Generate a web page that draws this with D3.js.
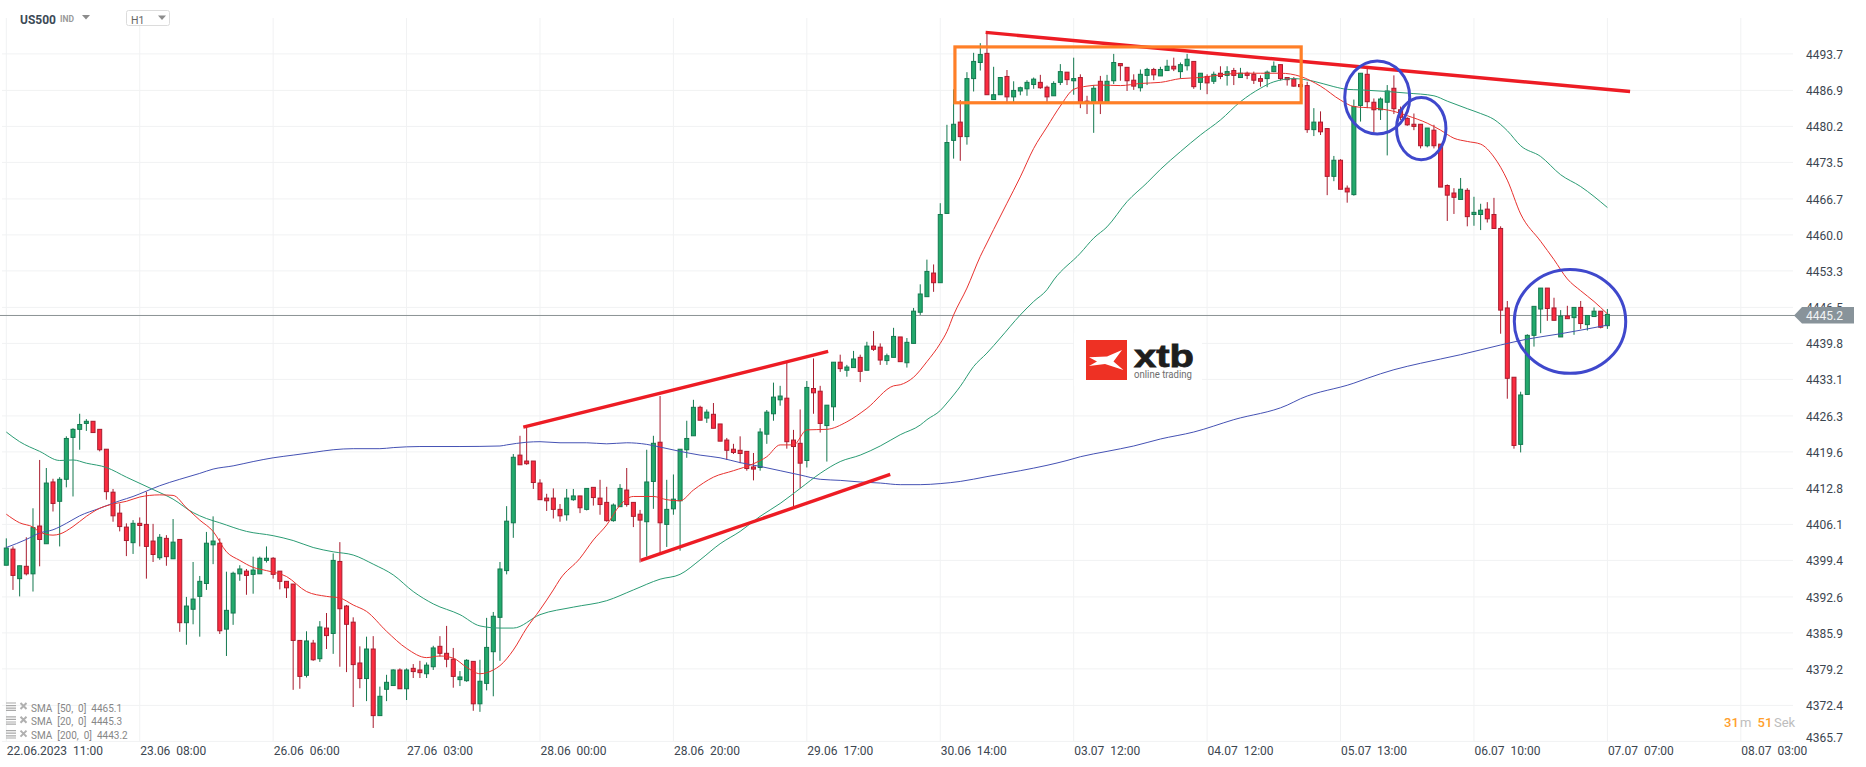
<!DOCTYPE html>
<html>
<head>
<meta charset="utf-8">
<title>US500 H1</title>
<script src="https://cdn.jsdelivr.net/npm/d3@7"></script>
<style>
  html, body { margin: 0; padding: 0; background: #fff; overflow: hidden; }
  svg { display: block; font-family: Roboto, sans-serif; }
  text { white-space: pre; }
  .domain { display: none; }
  .tick line { display: none; }
</style>
</head>
<body>
<svg id="chart" width="1866" height="767"></svg>
<script>
// candles, one value per hour
var opens = [
  4398.5,4401.5,4396.0,4398.3,4396.9,4405.8,4402.5,4414.0,4410.4,4414.5,
  4422.3,4423.8,4424.9,4425.3,4423.8,4420.1,4412.1,4408.2,4405.6,4402.7,
  4406.3,4406.1,4403.0,4399.9,4403.5,4399.7,4403.3,4387.8,4390.3,4392.7,
  4395.1,4402.3,4402.6,4386.6,4389.6,4396.9,4397.4,4396.8,4396.9,4399.4,
  4399.8,4397.4,4395.5,4395.0,4384.5,4378.0,4384.0,4381.1,4386.8,4385.8,
  4399.2,4390.9,4387.9,4380.3,4377.4,4382.9,4370.5,4375.4,4376.1,4379.0,
  4375.5,4379.3,4379.0,4378.3,4379.6,4383.4,4382.1,4381.0,4377.2,4377.0,
  4380.6,4372.7,4376.5,4382.4,4388.8,4397.5,4406.4,4419.0,4417.9,4417.9,
  4413.8,4411.0,4411.0,4408.9,4407.9,4410.7,4411.4,4408.9,4413.0,4411.0,
  4410.2,4406.8,4409.4,4412.5,4410.2,4408.0,4406.6,4414.1,4421.4,4406.1,
  4409.0,4410.5,4420.0,4422.6,4427.9,4425.9,4426.6,4424.8,4421.8,4420.1,
  4419.9,4419.7,4416.8,4416.7,4422.9,4426.7,4429.3,4429.6,4421.8,4421.2,
  4418.0,4431.4,4430.9,4424.5,4428.0,4436.3,4434.8,4435.3,4437.2,4434.8,
  4439.3,4439.1,4436.6,4437.2,4441.0,4436.2,4439.8,4445.6,4448.5,4452.9,
  4451.1,4464.0,4477.6,4481.0,4478.3,4489.1,4492.1,4493.8,4485.2,4486.1,
  4489.5,4485.7,4486.8,4487.2,4488.0,4488.4,4487.5,4485.9,4488.4,4490.3,
  4488.7,4489.3,4484.9,4484.5,4488.6,4484.5,4488.7,4491.9,4491.2,4488.8,
  4487.4,4489.7,4490.8,4489.6,4490.6,4491.4,4490.4,4491.5,4492.3,4488.4,
  4489.5,4488.6,4490.1,4489.7,4490.6,4489.3,4490.1,4489.9,4489.1,4489.1,
  4490.4,4491.7,4489.3,4489.0,4488.0,4487.8,4479.6,4481.0,4479.8,4470.9,
  4473.9,4468.7,4467.5,4484.1,4489.9,4484.7,4483.3,4484.7,4487.3,4483.3,
  4481.7,4480.6,4480.6,4476.6,4479.5,4476.9,4469.2,4467.8,4466.6,4468.3,
  4463.8,4463.8,4464.8,4463.8,4461.2,4446.4,4433.5,4421.0,4430.3,4441.3,
  4446.2,4450.1,4446.4,4441.0,4444.9,4444.6,4446.5,4443.3,4444.8,4445.8,4443.1
];
var highs = [
  4403.5,4402.0,4398.4,4403.7,4409.1,4418.1,4416.6,4414.6,4414.9,4422.5,
  4424.0,4426.7,4425.7,4425.3,4423.8,4420.1,4412.7,4410.0,4406.3,4406.9,
  4407.4,4412.2,4406.2,4404.3,4404.1,4407.1,4403.3,4392.6,4399.1,4396.5,
  4404.7,4407.6,4403.5,4397.3,4397.3,4398.5,4397.8,4400.1,4400.1,4402.0,
  4400.0,4397.4,4395.5,4395.0,4384.5,4386.2,4384.6,4388.1,4389.6,4400.7,
  4402.8,4391.1,4388.8,4383.4,4385.2,4385.3,4375.9,4378.1,4379.1,4379.3,
  4379.3,4380.1,4380.7,4380.4,4383.5,4385.3,4387.2,4383.1,4378.8,4381.0,
  4380.6,4380.9,4388.7,4389.8,4399.1,4409.5,4419.2,4422.6,4424.2,4417.9,
  4414.5,4411.8,4412.8,4409.9,4412.7,4412.7,4411.4,4412.8,4413.0,4414.4,
  4413.1,4410.0,4413.6,4416.6,4410.2,4408.8,4420.0,4422.6,4430.0,4414.4,
  4415.4,4420.1,4425.4,4429.3,4428.2,4427.5,4428.7,4424.8,4422.2,4421.1,
  4422.5,4419.7,4419.4,4424.0,4427.4,4432.5,4431.9,4436.2,4423.7,4427.5,
  4432.8,4437.0,4431.9,4428.3,4436.3,4437.7,4435.8,4438.4,4437.7,4440.1,
  4442.1,4439.8,4437.9,4442.7,4441.0,4440.8,4446.4,4450.8,4455.4,4454.5,
  4465.9,4480.5,4487.1,4485.1,4490.3,4493.9,4495.7,4497.8,4491.3,4489.3,
  4490.7,4488.6,4487.6,4488.8,4489.3,4489.8,4487.8,4488.6,4491.8,4490.3,
  4493.0,4489.9,4485.9,4487.9,4489.6,4489.8,4493.7,4491.9,4491.2,4489.9,
  4490.8,4491.1,4491.1,4491.3,4492.6,4493.0,4492.1,4493.7,4492.3,4490.1,
  4489.9,4490.4,4491.4,4491.4,4491.1,4491.1,4490.4,4490.4,4489.7,4490.6,
  4492.3,4491.7,4489.3,4489.4,4488.6,4488.5,4483.6,4483.0,4479.8,4474.7,
  4474.1,4469.2,4485.2,4490.1,4491.0,4485.4,4485.6,4487.9,4489.7,4483.9,
  4481.9,4482.6,4480.6,4479.9,4480.5,4476.9,4469.4,4468.7,4470.6,4468.7,
  4467.1,4465.8,4466.1,4466.9,4461.6,4447.7,4433.5,4430.8,4441.5,4446.7,
  4450.1,4450.1,4448.3,4446.0,4446.8,4446.5,4447.7,4445.0,4446.5,4445.8,4446.2
];
var lows = [
  4398.5,4393.9,4392.7,4396.6,4393.6,4398.3,4402.5,4408.5,4402.0,4413.0,
  4411.3,4420.0,4423.5,4423.2,4419.7,4410.7,4406.6,4404.8,4400.2,4400.6,
  4402.0,4396.0,4399.1,4399.5,4398.4,4399.7,4386.1,4383.7,4387.5,4385.2,
  4393.9,4398.7,4385.7,4381.6,4387.4,4395.6,4393.0,4393.2,4396.9,4399.0,
  4396.0,4394.0,4392.4,4375.3,4375.5,4377.6,4380.7,4380.5,4382.9,4382.0,
  4379.6,4378.6,4372.1,4375.6,4373.2,4368.2,4370.5,4373.2,4376.1,4375.5,
  4373.4,4377.5,4377.5,4377.5,4379.0,4381.5,4379.5,4375.7,4376.0,4376.8,
  4371.4,4371.2,4375.2,4374.1,4380.7,4396.8,4403.6,4417.2,4417.2,4412.7,
  4410.7,4408.6,4407.2,4406.6,4406.8,4410.5,4408.2,4408.7,4409.6,4407.9,
  4406.6,4406.6,4409.4,4409.4,4405.6,4399.0,4400.1,4409.0,4400.7,4401.9,
  4407.9,4401.2,4418.5,4422.6,4425.5,4425.0,4424.0,4421.6,4418.1,4419.2,
  4417.5,4416.1,4414.3,4416.1,4421.1,4425.4,4428.2,4420.2,4409.4,4412.8,
  4416.7,4426.7,4423.2,4417.8,4425.4,4434.5,4433.6,4435.3,4432.6,4434.8,
  4438.4,4435.8,4435.8,4437.2,4436.4,4435.3,4439.8,4445.1,4448.5,4449.4,
  4451.1,4464.0,4474.2,4473.8,4476.8,4486.7,4490.6,4486.1,4485.2,4486.1,
  4484.5,4484.6,4486.0,4485.9,4487.2,4487.2,4484.5,4485.9,4487.9,4487.9,
  4486.1,4483.6,4482.5,4479.0,4482.5,4484.5,4488.1,4488.7,4486.8,4487.0,
  4486.7,4487.9,4488.8,4489.6,4490.6,4490.5,4489.1,4490.6,4487.2,4487.0,
  4486.2,4488.1,4489.0,4487.8,4487.9,4489.3,4489.0,4488.1,4487.6,4487.5,
  4490.3,4488.8,4487.8,4487.6,4487.6,4479.0,4478.4,4478.6,4467.4,4470.0,
  4468.5,4466.0,4467.3,4481.1,4483.6,4479.1,4481.4,4474.8,4482.5,4481.4,
  4480.3,4479.5,4476.1,4476.3,4476.1,4468.9,4462.6,4463.9,4466.6,4461.6,
  4461.7,4460.9,4462.3,4461.1,4441.6,4429.5,4420.2,4419.5,4430.3,4439.2,
  4441.7,4444.0,4444.1,4441.0,4444.4,4441.4,4442.5,4442.2,4444.8,4442.6,4442.5
];
var closes = [
  4401.7,4396.6,4398.4,4396.9,4405.5,4403.3,4413.8,4410.0,4414.5,4422.1,
  4423.8,4424.7,4425.3,4423.2,4420.0,4412.2,4407.7,4405.7,4403.1,4406.3,
  4405.9,4402.0,4400.5,4403.7,4400.1,4402.8,4387.8,4390.9,4392.2,4395.5,
  4402.6,4403.0,4386.3,4390.1,4397.0,4397.8,4396.6,4397.6,4399.8,4399.8,
  4396.8,4395.5,4394.3,4384.5,4377.8,4384.4,4380.9,4387.0,4385.4,4399.4,
  4390.4,4387.5,4380.0,4377.4,4382.9,4370.5,4374.1,4376.7,4379.0,4375.5,
  4379.0,4378.7,4378.5,4379.9,4383.1,4382.1,4381.0,4377.8,4377.7,4380.8,
  4372.7,4376.9,4383.2,4389.0,4397.8,4406.7,4418.6,4417.2,4417.4,4413.9,
  4410.7,4410.5,4408.9,4407.7,4411.0,4411.4,4409.2,4412.8,4411.1,4409.8,
  4406.8,4409.7,4412.8,4409.8,4407.6,4406.9,4414.0,4421.2,4406.4,4408.9,
  4410.8,4420.1,4422.1,4427.9,4425.5,4427.0,4424.0,4421.6,4419.9,4419.5,
  4419.3,4416.5,4416.4,4423.3,4427.0,4429.8,4430.0,4421.5,4420.6,4417.5,
  4431.6,4430.6,4424.9,4428.3,4436.3,4435.1,4435.4,4436.9,4434.6,4439.3,
  4438.7,4436.7,4437.5,4441.1,4436.4,4440.0,4445.8,4449.0,4453.2,4451.1,
  4463.8,4477.2,4480.6,4478.3,4489.1,4492.3,4493.6,4486.1,4486.1,4489.3,
  4485.7,4486.9,4487.4,4488.4,4489.0,4487.4,4485.7,4488.2,4490.4,4488.9,
  4489.1,4484.5,4484.5,4487.3,4484.5,4488.6,4492.1,4491.5,4488.7,4487.7,
  4489.9,4490.8,4489.8,4490.8,4491.4,4490.9,4491.7,4492.7,4487.6,4490.1,
  4488.3,4489.9,4489.5,4490.4,4489.7,4490.1,4489.7,4488.8,4488.6,4490.3,
  4491.4,4489.1,4488.9,4487.7,4487.6,4479.6,4481.0,4479.2,4470.9,4473.9,
  4468.5,4468.0,4483.9,4490.1,4484.8,4483.3,4485.3,4486.8,4483.5,4481.9,
  4480.5,4480.2,4476.6,4479.9,4476.6,4468.9,4467.4,4467.0,4468.5,4463.4,
  4464.2,4464.6,4463.0,4461.2,4446.0,4433.3,4420.8,4430.2,4441.3,4446.7,
  4450.1,4446.3,4444.1,4444.9,4444.4,4446.5,4443.5,4445.0,4445.8,4442.8,4445.2
];

// moving averages, read at the candle numbers given in the *Idx lists
var sma50Idx = [0,2,5,8,10,12,15,18,22,25,28,30,32,36,40,43,46,49,52,55,58,61,64,68,71,74,76,80,85,90,94,98,101,104,107,110,113,116,119,122,125,128,131,134,137,138,140,141,143,145,147,149,152,154,156,157,161,163,165,168,171,173,176,179,182,185,188,190,193,196,199,201,203,207,210,214,216,219,221,223,225,227,230,233,236,240];
var sma50 = [4423.3,4421.5,4419.7,4418.0,4418.1,4417.5,4416.7,4414.9,4412.6,4410.8,4408.3,4407.2,4406.4,4404.8,4404.0,4403.1,4401.8,4401.0,4400.4,4398.7,4396.7,4393.6,4391.3,4389.3,4387.2,4386.8,4386.8,4389.3,4390.7,4391.9,4393.9,4395.9,4396.8,4399.5,4402.5,4404.8,4407.6,4410.0,4412.8,4415.6,4417.8,4419.0,4420.7,4422.8,4424.6,4425.6,4427.3,4428.7,4431.8,4435.5,4438.0,4440.8,4445.1,4447.6,4449.8,4451.6,4456.6,4459.4,4461.5,4466.2,4469.7,4472.2,4475.5,4478.6,4481.4,4484.8,4487.3,4488.5,4489.1,4488.6,4487.6,4487.1,4487.0,4486.7,4486.4,4485.9,4484.9,4483.5,4482.6,4481.5,4479.4,4476.6,4474.6,4471.2,4469.0,4465.1];

var sma20Idx = [0,2,4,5,7,8,10,12,14,16,18,20,23,25,27,29,31,33,35,37,39,42,45,48,50,52,54,57,60,63,65,67,69,71,73,74,76,78,80,82,83,86,88,90,92,94,97,99,101,103,106,109,112,114,116,118,120,123,126,129,133,134,136,138,140,141,142,144,146,147,148,150,152,154,156,158,160,162,164,167,170,173,176,179,182,185,188,191,194,197,200,202,205,208,210,213,215,217,219,221,223,225,227,230,232,234,236,238,240];
var sma20 = [4408.0,4406.4,4405.6,4404.7,4404.1,4404.3,4405.7,4407.6,4409.1,4409.9,4410.4,4411.2,4411.6,4411.5,4409.2,4406.9,4404.8,4401.0,4399.4,4398.1,4397.5,4396.4,4393.6,4392.7,4392.4,4391.1,4389.9,4386.2,4383.0,4381.3,4381.6,4381.2,4379.5,4378.3,4379.0,4379.8,4382.7,4386.8,4390.2,4393.9,4395.9,4399.8,4403.2,4406.0,4409.7,4411.3,4411.3,4410.7,4410.5,4412.5,4414.9,4416.1,4417.4,4418.7,4420.9,4420.9,4423.7,4423.8,4425.2,4427.7,4431.9,4432.1,4433.5,4436.4,4439.8,4442.0,4445.1,4450.1,4456.0,4458.5,4461.0,4465.9,4470.8,4476.1,4480.1,4484.0,4487.1,4487.7,4487.9,4487.8,4488.2,4488.4,4489.1,4489.3,4489.8,4490.1,4490.1,4490.1,4489.5,4487.7,4485.1,4483.9,4483.6,4483.0,4482.2,4480.8,4479.5,4478.0,4477.4,4476.9,4474.5,4470.2,4463.9,4458.8,4455.4,4451.8,4449.6,4447.6,4445.3];

var sma200Idx = [0,3,5,7,9,11,14,17,19,21,23,26,29,31,34,37,40,43,46,49,52,56,58,62,68,74,75,78,80,83,87,90,93,96,98,101,104,107,110,113,116,119,122,125,128,131,134,137,140,143,147,152,156,159,161,165,169,173,178,184,192,194,202,204,208,212,218,221,224,228,233,240];
var sma200 = [4401.8,4403.3,4404.5,4405.1,4406.3,4407.7,4409.1,4410.5,4411.3,4412.3,4413.3,4414.5,4415.6,4416.4,4417.0,4417.8,4418.5,4419.0,4419.5,4420.0,4420.2,4420.2,4420.4,4420.6,4420.6,4420.7,4420.9,4421.4,4421.5,4421.3,4421.3,4421.1,4421.3,4421.0,4420.5,4419.7,4419.0,4418.5,4417.6,4416.9,4416.1,4415.3,4414.5,4414.3,4414.0,4413.8,4413.5,4413.5,4413.7,4414.1,4415.0,4416.1,4417.1,4418.0,4418.7,4419.7,4420.7,4422.0,4423.3,4425.6,4428.3,4429.5,4432.4,4433.3,4434.9,4436.1,4437.7,4438.6,4439.5,4440.6,4441.6,4443.2];

// axis labels
var priceTicks = [4493.7,4486.9,4480.2,4473.5,4466.7,4460.0,4453.3,4446.5,4439.8,4433.1,4426.3,4419.6,4412.8,4406.1,4399.4,4392.6,4385.9,4379.2,4372.4,4365.7];
var timeTicks = [0,20,40,60,80,100,120,140,160,180,200,220,240,260];
var timeLabels = ["22.06.2023  11:00","23.06  08:00","26.06  06:00","27.06  03:00","28.06  00:00","28.06  20:00","29.06  17:00","30.06  14:00","03.07  12:00","04.07  12:00","05.07  13:00","06.07  10:00","07.07  07:00","08.07  03:00"];
var legendLabels = ["SMA  [50,  0]  4465.1","SMA  [20,  0]  4445.3","SMA  [200,  0]  4443.2"];
var lastPrice = 4445.2;
var lineLevel = 4445.0; // the grey line sits a touch under the printed price

// hand drawn marks on the chart, in candle number / price
var redLines = [
  [[77.5,4424.2],[123.2,4438.3]],
  [[95.1,4399.4],[132.5,4415.4]],
  [[146.8,4497.7],[243.4,4486.7]]
];
var orangeBox = [142.2,4495.0,194.1,4484.6];
var blueRings = [
  [205.5,4485.6,4.87,6.8],
  [212.1,4479.8,3.7,5.8],
  [234.4,4443.9,8.35,9.68]
];

var svg = d3.select("#chart");
var x = d3.scaleLinear().domain([0, 260]).range([6.3, 1740.8]);
var y = d3.scaleLinear().domain([4365.7, 4493.7]).range([741.4, 53.9]);

// grid
svg.append("g").selectAll("line").data(priceTicks).enter().append("line")
  .attr("x1", 2).attr("x2", 1793)
  .attr("y1", function(d) { return y(d); }).attr("y2", function(d) { return y(d); })
  .attr("stroke", "#f1f2f3").attr("stroke-width", 1);
svg.append("g").selectAll("line").data(timeTicks).enter().append("line")
  .attr("x1", function(d) { return x(d); }).attr("x2", function(d) { return x(d); })
  .attr("y1", 18).attr("y2", 741.5)
  .attr("stroke", "#f1f2f3").attr("stroke-width", 1);

// logo sits on the grid and hides it
var logo = svg.append("g");
logo.append("rect").attr("x", 1074).attr("y", 333).attr("width", 128).attr("height", 53).attr("fill", "#fff");
logo.append("rect").attr("x", 1086).attr("y", 340).attr("width", 41).attr("height", 40).attr("fill", "#ee3124");
logo.append("path").attr("d", "M1089,357.3L1107,356.5L1122,350L1113.5,361.5L1123.4,370L1105,364L1089,366L1097,361.6Z").attr("fill", "#fff");
logo.append("text").attr("x", 1134).attr("y", 366.7).attr("font-family", "Liberation Sans").attr("font-weight", "bold").attr("font-size", 32)
  .attr("textLength", 60).attr("lengthAdjust", "spacingAndGlyphs").attr("fill", "#1e1e1e")
  .attr("stroke", "#1e1e1e").attr("stroke-width", 0.8).text("xtb");
logo.append("text").attr("x", 1134).attr("y", 377.5).attr("font-size", 10.5)
  .attr("textLength", 58).attr("lengthAdjust", "spacingAndGlyphs").attr("fill", "#6e6e6e").text("online trading");

// last price line
svg.append("line").attr("x1", 0).attr("x2", 1796)
  .attr("y1", y(lineLevel)).attr("y2", y(lineLevel))
  .attr("stroke", "#8b9295").attr("stroke-width", 1);

// candles
var candles = svg.append("g").selectAll("g").data(opens).enter().append("g");
function up(i) { return closes[i] >= opens[i]; }
candles.append("line")
  .attr("x1", function(d, i) { return x(i); }).attr("x2", function(d, i) { return x(i); })
  .attr("y1", function(d, i) { return y(highs[i]); }).attr("y2", function(d, i) { return y(lows[i]); })
  .attr("stroke", function(d, i) { return up(i) ? "#13784f" : "#a81c2e"; })
  .attr("stroke-width", 1);
candles.append("rect")
  .attr("x", function(d, i) { return x(i) - 2; })
  .attr("width", 4)
  .attr("y", function(d, i) { return y(Math.max(opens[i], closes[i])); })
  .attr("height", function(d, i) { return Math.abs(y(opens[i]) - y(closes[i])); })
  .attr("fill", function(d, i) { return up(i) ? "#23a96c" : "#fb2c40"; })
  .attr("stroke", function(d, i) { return up(i) ? "#13784f" : "#a81c2e"; })
  .attr("stroke-width", 1);

// moving averages
function smaLine(idx, vals, color) {
  var line = d3.line()
    .curve(d3.curveMonotoneX)
    .x(function(d, i) { return x(idx[i]); })
    .y(function(d) { return y(d); });
  svg.append("path").attr("d", line(vals))
    .attr("fill", "none").attr("stroke", color).attr("stroke-width", 1);
}
smaLine(sma200Idx, sma200, "#4552b4");
smaLine(sma50Idx, sma50, "#2b9c74");
smaLine(sma20Idx, sma20, "#e8322f");

// axes
var yAxis = d3.axisRight(y).tickValues(priceTicks).tickFormat(d3.format(".1f")).tickSize(0).tickPadding(0);
var yAxisG = svg.append("g").attr("transform", "translate(1806,0.5)").call(yAxis);
yAxisG.selectAll("text").attr("font-size", 12).attr("font-family", "Roboto").attr("fill", "#3c4650");
// bottom label is pushed up so it stays above the time labels
yAxisG.selectAll(".tick").filter(function(d) { return d === 4365.7; }).select("text").attr("y", -4);

var xAxis = d3.axisBottom(x).tickValues(timeTicks)
  .tickFormat(function(d, i) { return timeLabels[i]; }).tickSize(0).tickPadding(0);
svg.append("g").attr("transform", "translate(0,746)").call(xAxis)
  .selectAll("text").attr("text-anchor", "start").attr("font-size", 12).attr("font-family", "Roboto").attr("fill", "#3c4650");

// drawn annotations
var trend = d3.line().x(function(d) { return x(d[0]); }).y(function(d) { return y(d[1]); });
svg.append("g").selectAll("path").data(redLines).enter().append("path")
  .attr("d", trend).attr("fill", "none").attr("stroke", "#ed1c24").attr("stroke-width", 3.4);
svg.append("rect")
  .attr("x", x(orangeBox[0])).attr("y", y(orangeBox[1]))
  .attr("width", x(orangeBox[2]) - x(orangeBox[0])).attr("height", y(orangeBox[3]) - y(orangeBox[1]))
  .attr("fill", "none").attr("stroke", "#ff7f27").attr("stroke-width", 3.2);
svg.append("g").selectAll("ellipse").data(blueRings).enter().append("ellipse")
  .attr("cx", function(d) { return x(d[0]); }).attr("cy", function(d) { return y(d[1]); })
  .attr("rx", function(d) { return x(d[2]) - x(0); }).attr("ry", function(d) { return y(4400) - y(d[3] + 4400); })
  .attr("fill", "none").attr("stroke", "#3f48cc").attr("stroke-width", 3);

// last price tag, over the axis labels
var tagY = y(lineLevel);
svg.append("path")
  .attr("d", "M1794," + tagY + "L1802," + (tagY - 8.5) + "H1854V" + (tagY + 8) + "H1802Z")
  .attr("fill", "#88939a");
svg.append("text").attr("x", 1806).attr("y", tagY + 5).attr("font-size", 12).attr("fill", "#f2f4f5").text(d3.format(".1f")(lastPrice));

// instrument header
svg.append("text").attr("x", 20).attr("y", 23.5).attr("font-size", 12).attr("font-weight", "bold").attr("fill", "#3c4a56").text("US500");
svg.append("text").attr("x", 60).attr("y", 22).attr("font-size", 8.5).attr("font-weight", "bold").attr("fill", "#9a9a9a").text("IND");
svg.append("path").attr("d", "M82,15H90L86,19.5Z").attr("fill", "#8c8c8c");
svg.append("rect").attr("x", 126.5).attr("y", 10.5).attr("width", 43).attr("height", 15).attr("rx", 2)
  .attr("fill", "#fff").attr("stroke", "#dcdcdc");
svg.append("text").attr("x", 131).attr("y", 24).attr("font-size", 10.5).attr("fill", "#666").text("H1");
svg.append("path").attr("d", "M158,15.5H166L162,20Z").attr("fill", "#8c8c8c");

// indicator legend
var legend = svg.append("g").selectAll("g").data(legendLabels).enter().append("g")
  .attr("transform", function(d, i) { return "translate(0," + (i * 13.8) + ")"; });
legend.append("text").attr("x", 31).attr("y", 711.6).attr("font-size", 10).attr("fill", "#878787")
  .text(function(d) { return d; });
legend.append("path").attr("d", "M6,703H16M6,705.6H16M6,708.2H16M6,710.4H16")
  .attr("stroke", "#a9a9a9").attr("stroke-width", 1.2);
legend.append("path").attr("d", "M20.5,703L26.5,709M26.5,703L20.5,709")
  .attr("stroke", "#b0b0b0").attr("stroke-width", 2);

// candle countdown
svg.append("text").attr("x", 1724).attr("y", 726.5).attr("font-size", 13).attr("font-weight", 500).attr("fill", "#ffa02e").text("31");
svg.append("text").attr("x", 1740).attr("y", 726.5).attr("font-size", 13).attr("fill", "#bdbdbd").text("m");
svg.append("text").attr("x", 1757.5).attr("y", 726.5).attr("font-size", 13).attr("font-weight", 500).attr("fill", "#ffa02e").text("51");
svg.append("text").attr("x", 1774).attr("y", 726.5).attr("font-size", 13).attr("fill", "#bdbdbd").text("Sek");
</script>
</body>
</html>
